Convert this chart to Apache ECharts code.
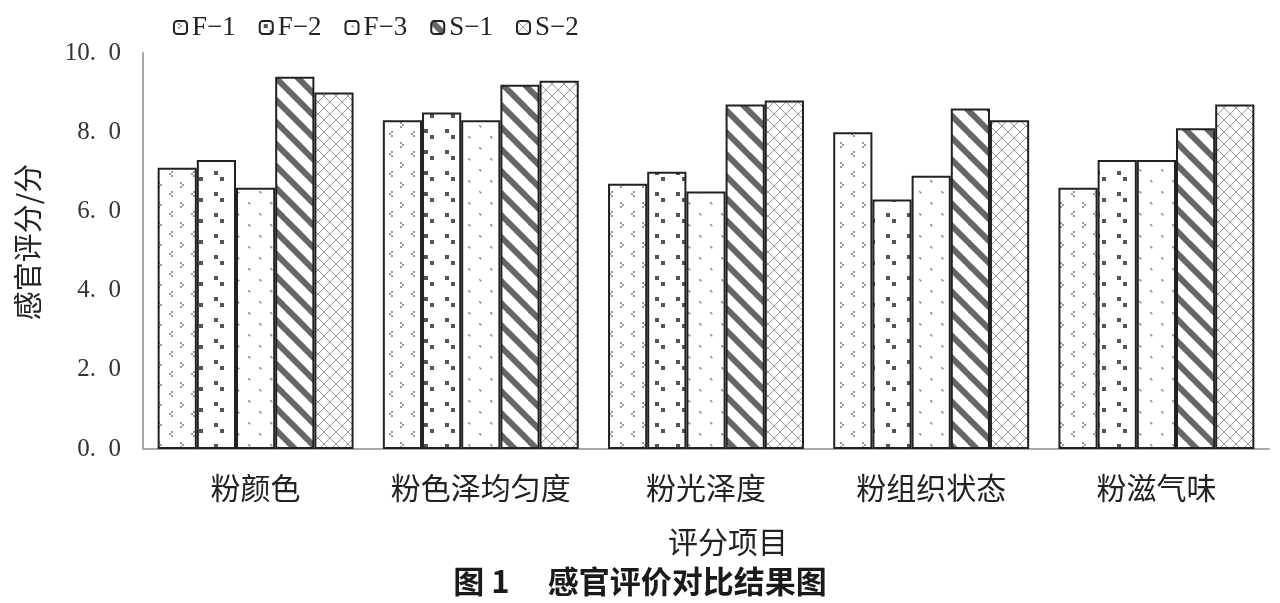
<!DOCTYPE html>
<html>
<head>
<meta charset="utf-8">
<script src="https://cdn.jsdelivr.net/npm/echarts@6/dist/echarts.min.js"></script>
<style>
html,body{margin:0;padding:0;background:#fff;}
#chart{width:1280px;height:603px;}
</style>
</head>
<body>
<div id="chart"></div>
<script>
// ---- data ----
const categories = ['粉颜色', '粉色泽均匀度', '粉光泽度', '粉组织状态', '粉滋气味'];
const seriesNames = ['F-1', 'F-2', 'F-3', 'S-1', 'S-2'];
const F1 = [7.1, 8.3, 6.7, 8.0, 6.6];
const F2 = [7.3, 8.5, 7.0, 6.3, 7.3];
const F3 = [6.6, 8.3, 6.5, 6.9, 7.3];
const S1 = [9.4, 9.2, 8.7, 8.6, 8.1];
const S2 = [9.0, 9.3, 8.8, 8.3, 8.7];
const yTicks = [0, 2, 4, 6, 8, 10];

// ---- patterns ----
function makePattern(w, h, draw) {
  const c = document.createElement('canvas');
  c.width = w; c.height = h;
  const ctx = c.getContext('2d');
  ctx.fillStyle = '#fff';
  ctx.fillRect(0, 0, w, h);
  draw(ctx, w, h);
  return { image: c, repeat: 'repeat' };
}
const patF1 = makePattern(22, 20, (ctx) => {
  ctx.fillStyle = '#9a9a9a';
  [[4,2],[6,4],[4,6],[17,11],[15,13],[17,15]].forEach(p => ctx.fillRect(p[0], p[1], 2, 2));
});
const patF2 = makePattern(21, 21, (ctx) => {
  ctx.fillStyle = '#555';
  ctx.fillRect(4, 3, 4, 4);
  ctx.fillRect(10, 9, 4, 4);
});
const patF3 = makePattern(22, 22, (ctx) => {
  ctx.fillStyle = '#8a8a8a';
  [[6,4],[7,5],[17,15],[18,16]].forEach(p => ctx.fillRect(p[0], p[1], 1.5, 1.5));
});
const patS1 = makePattern(22, 22, (ctx, w) => {
  ctx.strokeStyle = '#666';
  ctx.lineWidth = 6;
  for (let k = -1; k <= 1; k++) {
    ctx.beginPath();
    ctx.moveTo(-2, k * w - 2);
    ctx.lineTo(w + 2, w + k * w + 2);
    ctx.stroke();
  }
});
const patS2 = makePattern(12, 12, (ctx, w) => {
  ctx.strokeStyle = '#999';
  ctx.lineWidth = 1;
  for (let k = -1; k <= 1; k++) {
    ctx.beginPath();
    ctx.moveTo(-1, k * w - 1);
    ctx.lineTo(w + 1, w + k * w + 1);
    ctx.stroke();
    ctx.beginPath();
    ctx.moveTo(-1, w - k * w + 1);
    ctx.lineTo(w + 1, -k * w - 1);
    ctx.stroke();
  }
});

const seriesData = [F1, F2, F3, S1, S2];
const patterns = [patF1, patF2, patF3, patS1, patS2];
const SERIF = "'Liberation Serif', 'Times New Roman', serif";
const SANS = "'Noto Sans CJK SC', sans-serif";

const chart = echarts.init(document.getElementById('chart'), null, { renderer: 'canvas' });
const option = {
  backgroundColor: '#fff',
  animation: false,
  title: {
    text: '图 1　 感官评价对比结果图',
    left: 'center',
    top: 561,
    textStyle: { fontFamily: SANS, fontWeight: 'bold', fontSize: 31, color: '#1a1a1a' }
  },
  legend: {
    data: seriesNames,
    left: 168,
    top: 9,
    itemWidth: 13,
    itemHeight: 13,
    itemGap: 23,
    formatter: n => n.replace('-', '\u2212'),
    textStyle: { fontFamily: SERIF, fontSize: 27, color: '#222' }
  },
  grid: { left: 143, right: 11, top: 53, bottom: 154, containLabel: false, outerBoundsMode: 'none' },
  xAxis: {
    type: 'category',
    data: categories,
    axisLine: { lineStyle: { color: '#a8a8a8', width: 2 } },
    axisTick: { show: false },
    axisLabel: { fontFamily: SANS, fontSize: 30, color: '#222', margin: 24, interval: 0, hideOverlap: false },
    name: '评分项目',
    nameLocation: 'middle',
    nameGap: 78,
    nameTextStyle: { fontFamily: SANS, fontSize: 30, color: '#222', padding: [0, 0, 0, 44] }
  },
  yAxis: {
    type: 'value',
    min: yTicks[0],
    max: yTicks[yTicks.length - 1],
    interval: 2,
    axisLine: { show: true, lineStyle: { color: '#a8a8a8', width: 2 } },
    axisTick: { show: false },
    splitLine: { show: false },
    axisLabel: {
      fontFamily: SERIF, fontSize: 25, color: '#333', margin: 22,
      formatter: v => v.toFixed(1).replace('.', '.\u2002')
    },
    name: '感官评分/分',
    nameLocation: 'middle',
    nameGap: 101,
    nameRotate: 90,
    nameTextStyle: { fontFamily: SANS, fontSize: 29, color: '#222', padding: [0, 0, 0, 18] }
  },
  series: seriesNames.map((name, i) => ({
    name: name,
    type: 'bar',
    data: seriesData[i],
    barGap: '0%',
    barCategoryGap: '13%',
    itemStyle: { color: patterns[i], borderColor: '#222', borderWidth: 2 },
    emphasis: { disabled: true }
  }))
};
chart.setOption(option);
</script>
</body>
</html>
